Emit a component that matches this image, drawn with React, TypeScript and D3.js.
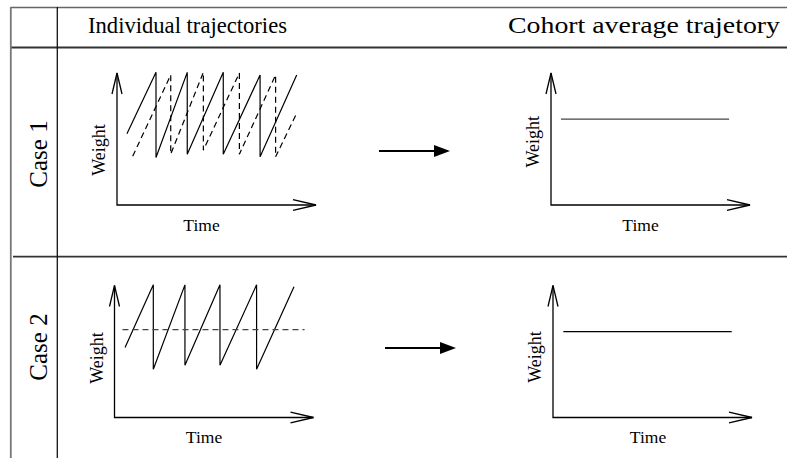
import React, { useRef, useEffect } from 'react';
import * as d3 from 'd3';

// Table text
const columnTitles = ["Individual trajectories", "Cohort average trajetory"];
const caseLabels = ["Case 1", "Case 2"];
const xAxisLabel = "Time";
const yAxisLabel = "Weight";

// Case 1, individual trajectories (time, weight in axis units 0..10)
const case1SolidTime = [0.5, 1.96, 1.96, 3.53, 3.53, 5.34, 5.34, 7.19, 7.19, 9.03];
const case1SolidWeight = [5.4, 10.05, 3.6, 10.05, 3.85, 10.05, 3.85, 9.85, 3.65, 9.85];
const case1DashedTime = [0.79, 2.7, 2.7, 4.34, 4.34, 6.15, 6.15, 7.97, 7.97, 9.03];
const case1DashedWeight = [3.7, 9.85, 3.85, 10.05, 4.15, 10.0, 3.85, 9.85, 3.65, 6.95];

// Case 2, individual trajectory and its mean
const case2SolidTime = [0.53, 1.95, 1.95, 3.54, 3.54, 5.3, 5.3, 7.14, 7.14, 9.02];
const case2SolidWeight = [5.3, 10.05, 3.65, 10.05, 3.95, 10.05, 3.95, 10.05, 3.65, 9.9];
const case2MeanTime = [0.4, 9.55];
const case2MeanWeight = [6.65, 6.65];

// Cohort averages
const case1AvgTime = [0.5, 8.95];
const case1AvgWeight = [6.5, 6.5];
const case2AvgTime = [0.52, 8.98];
const case2AvgWeight = [6.5, 6.5];

type Series = { t: number[]; w: number[]; dashed?: boolean; color?: string };

export default function App() {
    const svgRef = useRef<SVGSVGElement>(null);

    useEffect(() => {
        if (!svgRef.current) return;
        const W = 787, H = 458;
        const svg = d3.select(svgRef.current);
        svg.selectAll("*").remove();
        svg.attr("width", W).attr("height", H);
        svg.append("rect").attr("width", W).attr("height", H).attr("fill", "#fff");

        const font = "'Liberation Serif', 'Times New Roman', serif";

        // Table frame
        const frame = svg.append("g");
        frame.append("line").attr("x1", 10.5).attr("x2", W).attr("y1", 7.5).attr("y2", 7.5)
            .attr("stroke", "#666").attr("stroke-width", 1.5);
        frame.append("line").attr("x1", 10.5).attr("x2", W).attr("y1", 47.5).attr("y2", 47.5)
            .attr("stroke", "#333").attr("stroke-width", 1.8);
        frame.append("line").attr("x1", 13).attr("x2", W).attr("y1", 256.7).attr("y2", 256.7)
            .attr("stroke", "#333").attr("stroke-width", 1.8);
        frame.append("line").attr("x1", 10.8).attr("x2", 10.8).attr("y1", 7).attr("y2", H)
            .attr("stroke", "#777").attr("stroke-width", 1.8);
        frame.append("line").attr("x1", 57.3).attr("x2", 57.3).attr("y1", 7).attr("y2", H)
            .attr("stroke", "#111").attr("stroke-width", 1.3);

        // Header
        const titleX = [88, 508];
        const titleW = [199, 272];
        const titleSize = [22.6, 23];
        columnTitles.forEach((t, i) => {
            svg.append("text").attr("x", titleX[i]).attr("y", 33)
                .attr("font-family", font).attr("font-size", titleSize[i]).attr("fill", "#000")
                .attr("textLength", titleW[i]).attr("lengthAdjust", "spacingAndGlyphs")
                .text(t);
        });

        // Row labels
        const caseY = [154, 347];
        caseLabels.forEach((t, i) => {
            svg.append("text")
                .attr("transform", `translate(47,${caseY[i]}) rotate(-90)`)
                .attr("text-anchor", "middle")
                .attr("font-family", font).attr("font-size", 25).attr("fill", "#000")
                .text(t);
        });

        // Shared scales (axis units -> pixels from panel origin)
        const x = d3.scaleLinear().domain([0, 10]).range([0, 199]);
        const y = d3.scaleLinear().domain([0, 10]).range([0, -132]);
        const line = d3.line<[number, number]>().x(d => x(d[0])).y(d => y(d[1]));

        const drawPanel = (ox: number, oy: number, series: Series[], timeDx: number, weightDy: number) => {
            const g = svg.append("g").attr("transform", `translate(${ox},${oy})`);
            const x0 = x(0), x1 = x(10), y0 = y(0), y1 = y(10);
            // axes
            g.append("path").attr("d", `M${x0},${y1}V${y0}H${x1}`)
                .attr("fill", "none").attr("stroke", "#000").attr("stroke-width", 1.3);
            // open arrow heads
            g.append("path").attr("d", `M${x0 - 5},${y1 + 21}L${x0},${y1}L${x0 + 5},${y1 + 21}`)
                .attr("fill", "none").attr("stroke", "#000").attr("stroke-width", 1.3);
            g.append("path").attr("d", `M${x1 - 23},${y0 - 5.3}L${x1},${y0}L${x1 - 23},${y0 + 5.3}`)
                .attr("fill", "none").attr("stroke", "#000").attr("stroke-width", 1.3);
            // labels
            g.append("text").attr("x", (x0 + x1) / 2 + timeDx).attr("y", 25.5)
                .attr("text-anchor", "middle").attr("font-family", font).attr("font-size", 17.5)
                .text(xAxisLabel);
            g.append("text")
                .attr("transform", `translate(-12,${weightDy}) rotate(-90)`)
                .attr("text-anchor", "middle").attr("font-family", font).attr("font-size", 18)
                .text(yAxisLabel);
            // series
            series.forEach(s => {
                const pts = s.t.map((t, i) => [t, s.w[i]] as [number, number]);
                g.append("path").attr("d", line(pts)!)
                    .attr("fill", "none")
                    .attr("stroke", s.color ?? "#000")
                    .attr("stroke-width", 1.2)
                    .attr("stroke-dasharray", s.dashed ? "6 4" : null);
            });
        };

        drawPanel(117, 205, [
            { t: case1SolidTime, w: case1SolidWeight },
            { t: case1DashedTime, w: case1DashedWeight, dashed: true },
        ], -15, -55);
        drawPanel(551, 205, [
            { t: case1AvgTime, w: case1AvgWeight, color: "#444" },
        ], -10, -63.3);
        drawPanel(114.5, 417.5, [
            { t: case2SolidTime, w: case2SolidWeight },
            { t: case2MeanTime, w: case2MeanWeight, dashed: true, color: "#444" },
        ], -10, -59.5);
        drawPanel(553, 417.5, [
            { t: case2AvgTime, w: case2AvgWeight },
        ], -4.5, -60.5);

        // Arrows between columns
        const arrows = [[379, 450, 151], [385, 456, 348]];
        arrows.forEach(([a, b, yy]) => {
            svg.append("line").attr("x1", a).attr("x2", b - 14).attr("y1", yy).attr("y2", yy)
                .attr("stroke", "#000").attr("stroke-width", 2);
            svg.append("path").attr("d", `M${b - 16},${yy - 6}L${b},${yy}L${b - 16},${yy + 6}Z`)
                .attr("fill", "#000");
        });
    }, []);

    return (
        <div style={{ position: "absolute", left: 0, top: 0 }}>
            <svg ref={svgRef} style={{ display: "block" }} />
        </div>
    );
}
